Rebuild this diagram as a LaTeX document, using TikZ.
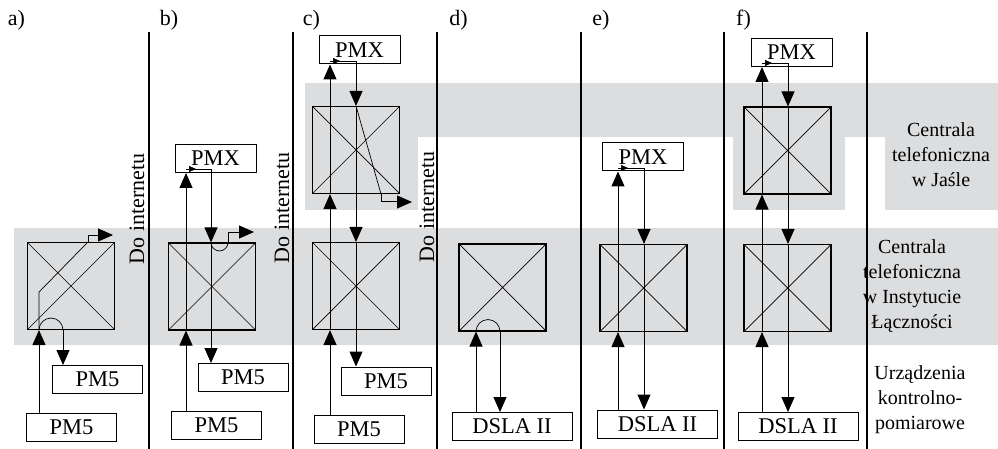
\documentclass[tikz,border=0pt]{standalone}
\usepackage{fontspec}
\setmainfont{Liberation Serif}
\usetikzlibrary{arrows.meta}

\definecolor{bandgray}{RGB}{220,221,223}

\tikzset{
  swbox/.style={draw, line width=1.1pt, minimum size=87pt, inner sep=0pt,
    path picture={\draw[line width=0.7pt]
      (path picture bounding box.north west) -- (path picture bounding box.south east)
      (path picture bounding box.north east) -- (path picture bounding box.south west);}},
  devbox/.style={draw, line width=1pt, minimum height=28pt, inner sep=0pt,
    font=\fontsize{22.5}{26}\selectfont},
  pmbox/.style={devbox, minimum width=90pt},
  pxbox/.style={devbox, minimum width=81pt},
  dsbox/.style={devbox, minimum width=120pt},
  sigarr/.style={line width=1pt, -{Triangle[length=15pt,width=13pt]}},
  inner/.style={line width=0.7pt},
  tinyarr/.style={line width=0.7pt, -{Triangle[length=7pt,width=6pt]}},
  netlbl/.style={rotate=90, inner sep=0pt, font=\fontsize{22}{26}\selectfont},
  panlbl/.style={inner sep=0pt, font=\fontsize{22}{26}\selectfont},
  sidelbl/.style={align=center, inner sep=0pt, font=\fontsize{20}{25}\selectfont},
  sepline/.style={line width=1.2pt}
}

\begin{document}
\begin{tikzpicture}[x=1pt,y=-1pt]
    \useasboundingbox (0,0) rectangle (998,449);

    % gray bands
    \fill[bandgray] (14,228) rectangle (998,345);
    \fill[bandgray] (305,83) rectangle (998,137);
    \fill[bandgray] (305,136) rectangle (418,210);
    \fill[bandgray] (733,136) rectangle (845,210);
    \fill[bandgray] (885,136) rectangle (998,210);

    % separators
    \foreach \x in {149,293,437,581,724,867}
        \draw[sepline] (\x,32) -- (\x,449);

    % panel letters
    \foreach \x/\t in {16.5/a,169/b,311.5/c,458.5/d,601/e,743.5/f}
        \node[panlbl] (lab\t) at (\x,20) {\t)};

    % side labels
    \node[sidelbl] (lvJ) at (941,155) {Centrala\\telefoniczna\\w Jaśle};
    \node[sidelbl] (lvI) at (912,286) {Centrala\\telefoniczna\\w Instytucie\\Łączności};
    \node[sidelbl] (lvU) at (920,400) {Urządzenia\\kontrolno-\\pomiarowe};

    % to the internet
    \node[netlbl] (netA) at (137,209) {Do internetu};
    \node[netlbl] (netB) at (282,208) {Do internetu};
    \node[netlbl] (netC) at (427,207) {Do internetu};

    % panel a
    \node[swbox] (swA) at (71,286) {};
    \node[pmbox] (pmAu) at (97.5,379.5) {PM5};
    \node[pmbox] (pmAl) at (71.5,427) {PM5};
    \coordinate (aL) at (39,0);
    \coordinate (aM) at (88,0);
    \coordinate (aR) at (63,0);
    \coordinate (aOut) at (113,235);
    \draw[sigarr] (pmAl.north -| aL) -- (swA.south -| aL);
    \draw[inner] (swA.south -| aL) -- ++(0,-38) -- (swA.north -| aM);
    \draw[sigarr] (swA.north -| aM) -- (aM |- aOut) -- (aOut);
    \draw[inner] (swA.south -| aL) arc[start angle=180,end angle=0,radius=12pt];
    \draw[sigarr] (swA.south -| aR) -- (pmAu.north -| aR);

    % panel b
    \node[swbox] (swB) at (212,286.5) {};
    \node[pxbox] (pxB) at (215.5,158.5) {PMX};
    \node[pmbox] (pmBu) at (243,377.5) {PM5};
    \node[pmbox] (pmBl) at (216.5,425) {PM5};
    \coordinate (bL) at (186,0);
    \coordinate (bR) at (211,0);
    \coordinate (bB) at (228,0);
    \coordinate (bIn) at (186,169);
    \coordinate (bOut) at (254,232);
    \draw[sigarr] (pmBl.north -| bL) -- (swB.south -| bL);
    \draw[inner] (swB.south -| bL) -- (swB.north -| bL);
    \draw[sigarr] (swB.north -| bL) -- (pxB.south -| bL);
    \draw[inner] (bIn) -- (bIn -| bR);
    \draw[tinyarr] (bIn) -- ++(10,0);
    \draw[sigarr] (bIn -| bR) -- (swB.north -| bR);
    \draw[inner] (swB.north -| bR) -- (swB.south -| bR);
    \draw[sigarr] (swB.south -| bR) -- (pmBu.north -| bR);
    \draw[inner] (swB.north -| bR) arc[start angle=180,end angle=360,radius=8.5pt];
    \draw[sigarr] (swB.north -| bB) -- (bB |- bOut) -- (bOut);

    % panel c
    \node[swbox] (swCu) at (356,150) {};
    \node[swbox] (swCl) at (356,286) {};
    \node[pxbox] (pxC) at (359.5,50) {PMX};
    \node[pmbox] (pmCu) at (386,381) {PM5};
    \node[pmbox] (pmCl) at (359,429) {PM5};
    \coordinate (cL) at (330,0);
    \coordinate (cR) at (356,0);
    \coordinate (cD) at (381,0);
    \coordinate (cIn) at (330,61);
    \coordinate (cOut) at (412,202);
    \draw[sigarr] (pmCl.north -| cL) -- (swCl.south -| cL);
    \draw[inner] (swCl.south -| cL) -- (swCl.north -| cL);
    \draw[sigarr] (swCl.north -| cL) -- (swCu.south -| cL);
    \draw[inner] (swCu.south -| cL) -- (swCu.north -| cL);
    \draw[sigarr] (swCu.north -| cL) -- (pxC.south -| cL);
    \draw[inner] (cIn) -- (cIn -| cR);
    \draw[tinyarr] (cIn) -- ++(10,0);
    \draw[sigarr] (cIn -| cR) -- (swCu.north -| cR);
    \draw[inner] (swCu.north -| cR) -- (swCu.south -| cR);
    \draw[sigarr] (swCu.south -| cR) -- (swCl.north -| cR);
    \draw[inner] (swCl.north -| cR) -- (swCl.south -| cR);
    \draw[sigarr] (swCl.south -| cR) -- (pmCu.north -| cR);
    \draw[inner] (swCu.north -| cR) -- (swCu.south -| cD);
    \draw[sigarr] (swCu.south -| cD) -- (cD |- cOut) -- (cOut);

    % panel d
    \node[swbox] (swD) at (502.5,287.5) {};
    \node[dsbox] (dsD) at (512,426.5) {DSLA II};
    \coordinate (dL) at (476,0);
    \coordinate (dR) at (500,0);
    \draw[sigarr] (dsD.north -| dL) -- (swD.south -| dL);
    \draw[inner] (swD.south -| dL) arc[start angle=180,end angle=0,radius=12pt];
    \draw[sigarr] (swD.south -| dR) -- (dsD.north -| dR);

    % panel e
    \node[swbox] (swE) at (643.5,288) {};
    \node[pxbox] (pxE) at (643,157) {PMX};
    \node[dsbox] (dsE) at (657.5,424) {DSLA II};
    \coordinate (eL) at (618,0);
    \coordinate (eR) at (644,0);
    \coordinate (eIn) at (618,168);
    \draw[sigarr] (dsE.north -| eL) -- (swE.south -| eL);
    \draw[inner] (swE.south -| eL) -- (swE.north -| eL);
    \draw[sigarr] (swE.north -| eL) -- (pxE.south -| eL);
    \draw[inner] (eIn) -- (eIn -| eR);
    \draw[tinyarr] (eIn) -- ++(10,0);
    \draw[sigarr] (eIn -| eR) -- (swE.north -| eR);
    \draw[inner] (swE.north -| eR) -- (swE.south -| eR);
    \draw[sigarr] (swE.south -| eR) -- (dsE.north -| eR);

    % panel f
    \node[swbox] (swFu) at (787.5,150.5) {};
    \node[swbox] (swFl) at (787.5,288) {};
    \node[pxbox] (pxF) at (791.5,52.5) {PMX};
    \node[dsbox] (dsF) at (798,426.5) {DSLA II};
    \coordinate (fL) at (762,0);
    \coordinate (fR) at (788,0);
    \coordinate (fIn) at (762,63);
    \draw[sigarr] (dsF.north -| fL) -- (swFl.south -| fL);
    \draw[inner] (swFl.south -| fL) -- (swFl.north -| fL);
    \draw[sigarr] (swFl.north -| fL) -- (swFu.south -| fL);
    \draw[inner] (swFu.south -| fL) -- (swFu.north -| fL);
    \draw[sigarr] (swFu.north -| fL) -- (pxF.south -| fL);
    \draw[inner] (fIn) -- (fIn -| fR);
    \draw[tinyarr] (fIn) -- ++(10,0);
    \draw[sigarr] (fIn -| fR) -- (swFu.north -| fR);
    \draw[inner] (swFu.north -| fR) -- (swFu.south -| fR);
    \draw[sigarr] (swFu.south -| fR) -- (swFl.north -| fR);
    \draw[inner] (swFl.north -| fR) -- (swFl.south -| fR);
    \draw[sigarr] (swFl.south -| fR) -- (dsF.north -| fR);
\end{tikzpicture}
\end{document}
